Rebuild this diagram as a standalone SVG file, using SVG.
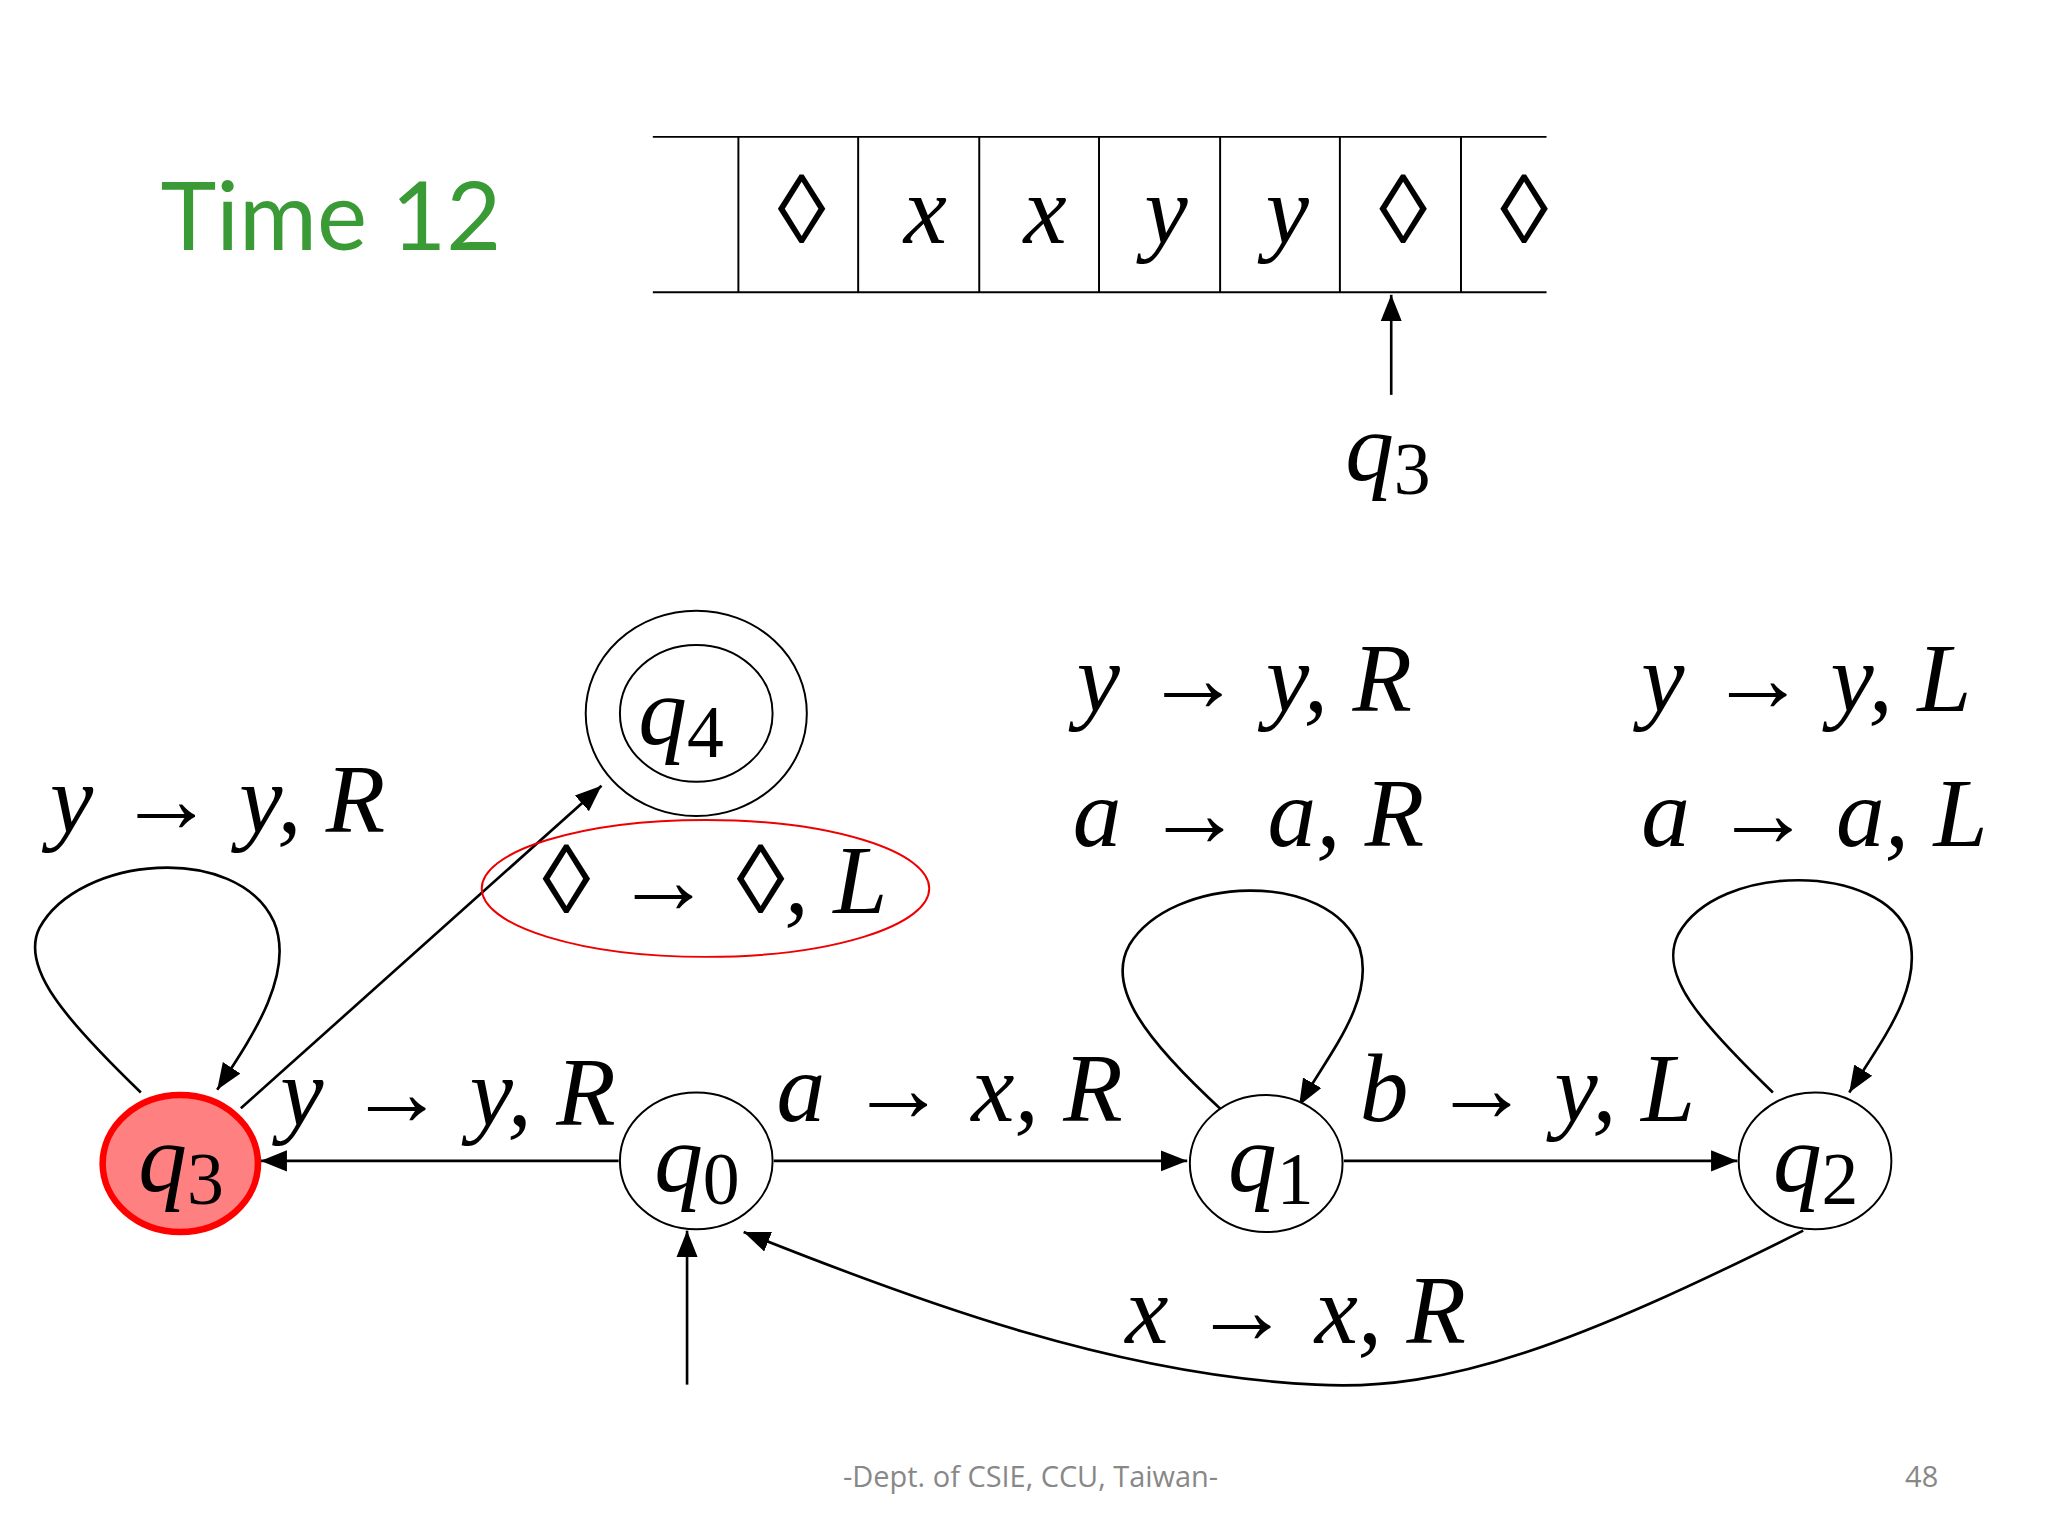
<svg xmlns="http://www.w3.org/2000/svg" width="2048" height="1536" viewBox="0 0 2048 1536">
<style>
.t{font-family:"Liberation Serif",serif;font-style:italic;font-size:74px;fill:#000}
.ar{font-style:normal}
.e{fill:none;stroke:#000;stroke-width:2}
.n{fill:#fff;stroke:#000;stroke-width:1.5}
.sub{font-size:56px;font-style:normal}
</style>
<defs><marker id="a" markerWidth="12" markerHeight="10" refX="11" refY="5" orient="auto" markerUnits="userSpaceOnUse"><path d="M0,0L12,5L0,10z" fill="#000" transform="scale(1.6) translate(-4,-2)"/></marker>
<marker id="m" viewBox="0 0 10 10" refX="10" refY="5" markerWidth="20" markerHeight="20" orient="auto" markerUnits="userSpaceOnUse"><path d="M0,1L10,5L0,9z" fill="#000"/></marker></defs>
<rect width="2048" height="1536" fill="#fff"/>
<g transform="scale(1.3162)">
<text x="122" y="190" font-family="Lato,'Liberation Sans',sans-serif" font-size="72" fill="#3a9a35">Time 12</text>
<g id="tape" stroke="#000" stroke-width="1.5">
<line x1="496" y1="104" x2="1175" y2="104"/><line x1="496" y1="222" x2="1175" y2="222"/>
<line x1="561" y1="104" x2="561" y2="222"/><line x1="652" y1="104" x2="652" y2="222"/><line x1="744" y1="104" x2="744" y2="222"/><line x1="835" y1="104" x2="835" y2="222"/><line x1="927" y1="104" x2="927" y2="222"/><line x1="1018" y1="104" x2="1018" y2="222"/><line x1="1110" y1="104" x2="1110" y2="222"/>
</g>
<g class="t" text-anchor="middle">
<text x="609" y="185" class="t ar" style="font-style:normal">◊</text><text x="703" y="185">x</text><text x="794" y="185">x</text><text x="886" y="185">y</text><text x="978" y="185">y</text><text x="1066" y="185" style="font-style:normal">◊</text><text x="1158" y="185" style="font-style:normal">◊</text>
</g>
<line class="e" x1="1057" y1="300" x2="1057" y2="224" marker-end="url(#m)"/>
<text class="t" x="1022" y="365">q<tspan class="sub" dy="10">3</tspan></text>
<g id="connectors">
<line class="e" x1="470" y1="882" x2="198" y2="882" marker-end="url(#m)"/>
<line class="e" x1="588" y1="882" x2="902" y2="882" marker-end="url(#m)"/>
<line class="e" x1="1021" y1="882" x2="1320" y2="882" marker-end="url(#m)"/>
<path class="e" d="M1370,935 C1200,1020 1100,1058 1000,1052 C850,1045 700,990 565,936" marker-end="url(#m)"/>
<line class="e" x1="522" y1="1052" x2="522" y2="935" marker-end="url(#m)"/>
<line class="e" x1="183" y1="842" x2="457" y2="597" marker-end="url(#m)"/>
<path class="e" d="M107,830 C50,775 15,735 30,705 C60,650 180,640 208,700 C225,740 190,790 165,828" marker-end="url(#m)"/>
<path class="e" d="M930,845 C870,790 840,750 858,718 C890,665 1010,660 1033,720 C1045,760 1010,800 987,840" marker-end="url(#m)"/>
<path class="e" d="M1347,830 C1290,775 1260,740 1275,710 C1305,655 1430,655 1450,710 C1462,750 1430,790 1405,830" marker-end="url(#m)"/>
</g>
<g id="q3"><ellipse cx="137" cy="884" rx="59" ry="52" fill="#ff8080" stroke="#f00" stroke-width="5"/><text class="t" x="105" y="905">q<tspan class="sub" dy="10">3</tspan></text></g>
<g id="q0"><ellipse class="n" cx="529" cy="882" rx="58" ry="52"/><text class="t" x="497" y="905">q<tspan class="sub" dy="10">0</tspan></text></g>
<g id="q1"><ellipse class="n" cx="962" cy="884" rx="58" ry="52"/><text class="t" x="933" y="905">q<tspan class="sub" dy="10">1</tspan></text></g>
<g id="q2"><ellipse class="n" cx="1379" cy="882" rx="58" ry="52"/><text class="t" x="1347" y="905">q<tspan class="sub" dy="10">2</tspan></text></g>
<g id="q4"><ellipse class="n" cx="529" cy="542" rx="84" ry="78"/><ellipse class="n" cx="529" cy="542" rx="58" ry="52"/><text class="t" x="485" y="565">q<tspan class="sub" dy="10">4</tspan></text></g>
<ellipse cx="536" cy="675" rx="170" ry="52" fill="none" stroke="#e00" stroke-width="1.5"/>
<g class="t">
<text x="38" y="632">y <tspan class="ar">→</tspan> y, R</text>
<text x="412" y="694"><tspan class="ar">◊ → ◊</tspan>, L</text>
<text x="213" y="855">y <tspan class="ar">→</tspan> y, R</text>
<text x="590" y="852">a <tspan class="ar">→</tspan> x, R</text>
<text x="1033" y="852">b <tspan class="ar">→</tspan> y, L</text>
<text x="818" y="540">y <tspan class="ar">→</tspan> y, R</text>
<text x="815" y="643">a <tspan class="ar">→</tspan> a, R</text>
<text x="1247" y="540">y <tspan class="ar">→</tspan> y, L</text>
<text x="1247" y="643">a <tspan class="ar">→</tspan> a, L</text>
<text x="855" y="1020">x <tspan class="ar">→</tspan> x, R</text>
</g>
<text x="783" y="1130" text-anchor="middle" font-family="'Open Sans',sans-serif" font-size="22" fill="#888">-Dept. of CSIE, CCU, Taiwan-</text>
<text x="1460" y="1130" text-anchor="middle" font-family="'Open Sans',sans-serif" font-size="22" fill="#888">48</text>
</g>
</svg>
